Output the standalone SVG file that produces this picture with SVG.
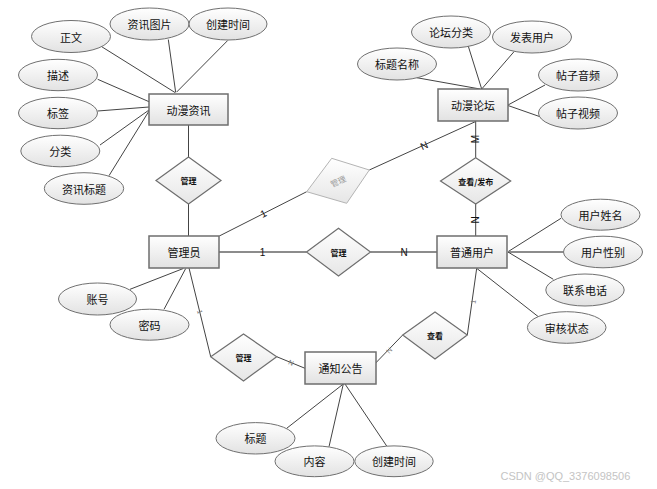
<svg xmlns="http://www.w3.org/2000/svg" width="657" height="489" viewBox="0 0 657 489">
<defs>
<linearGradient id="g" x1="0" y1="0" x2="0" y2="1">
<stop offset="0" stop-color="#ffffff"/>
<stop offset="1" stop-color="#e2e2e2"/>
</linearGradient>
<linearGradient id="gd" x1="0" y1="0" x2="0" y2="1">
<stop offset="0" stop-color="#ffffff"/>
<stop offset="1" stop-color="#e6e6e6"/>
</linearGradient>
</defs>
<style>
.ent{fill:url(#g);stroke:#6e6e6e;stroke-width:1.5}
.att{fill:url(#g);stroke:#707070;stroke-width:1}
.rel{fill:url(#gd);stroke:#6e6e6e;stroke-width:1.2}
.relg{fill:url(#gd);stroke:#b4b4b4;stroke-width:1}
.t{font-family:"Noto Sans CJK SC","Liberation Sans",sans-serif;font-size:11px;fill:#111;text-anchor:middle;dominant-baseline:central}
.rt{font-family:"Noto Sans CJK SC","Liberation Sans",sans-serif;font-size:8px;font-weight:bold;fill:#111;text-anchor:middle;dominant-baseline:central}
.rtg{font-family:"Noto Sans CJK SC","Liberation Sans",sans-serif;font-size:8px;fill:#999;text-anchor:middle;dominant-baseline:central}
.ln{stroke:#444;stroke-width:1;fill:none}
.lg{stroke:#8c8c8c;stroke-width:2;fill:none}
.lb{font-family:"Liberation Sans",sans-serif;font-size:10px;fill:#111;text-anchor:middle;dominant-baseline:central}
.lbs{font-family:"Liberation Sans",sans-serif;font-size:7px;fill:#777;text-anchor:middle;dominant-baseline:central}
.wm{font-family:"Liberation Sans",sans-serif;font-size:11px;fill:#c4c4c4}
</style>

<g id="connectors">
<line class="ln" x1="101.7" y1="46.7" x2="175" y2="92.5"/>
<line class="ln" x1="168.3" y1="39.5" x2="175.7" y2="92.5"/>
<line class="ln" x1="227.7" y1="40.5" x2="176.7" y2="92"/>
<line class="ln" x1="97.7" y1="79.3" x2="149" y2="101.7"/>
<line class="ln" x1="97.7" y1="111" x2="149" y2="107"/>
<line class="ln" x1="100" y1="145" x2="149" y2="110"/>
<line class="ln" x1="109" y1="175.7" x2="149" y2="111"/>
<line class="ln" x1="188.5" y1="125" x2="188.5" y2="157"/>
<line class="ln" x1="188.5" y1="204" x2="188.5" y2="236"/>
<line class="ln" x1="467.7" y1="44.3" x2="481.7" y2="89"/>
<line class="ln" x1="514" y1="51.7" x2="481.7" y2="89"/>
<line class="ln" x1="416.7" y1="77.7" x2="480" y2="89"/>
<line class="ln" x1="545" y1="85" x2="508" y2="105"/>
<line class="ln" x1="540" y1="116.7" x2="508" y2="105.5"/>
<line class="ln" x1="475.7" y1="121" x2="475.7" y2="157.7"/>
<line class="ln" x1="475.7" y1="204" x2="475.7" y2="236"/>
<line class="ln" x1="219.3" y1="236" x2="306.7" y2="191.7"/>
<line class="ln" x1="369.3" y1="170" x2="475.7" y2="121.5"/>
<line class="lg" x1="219" y1="252" x2="306.5" y2="252"/>
<line class="lg" x1="370.5" y1="252" x2="437" y2="252"/>
<line class="ln" x1="561" y1="218.3" x2="508" y2="251.7"/>
<line class="lg" x1="563.3" y1="252" x2="508" y2="252"/>
<line class="ln" x1="553.3" y1="279.3" x2="508" y2="252"/>
<line class="ln" x1="538.3" y1="316.7" x2="476.7" y2="268.3"/>
<line class="ln" x1="476.7" y1="268.3" x2="467.3" y2="335"/>
<line class="ln" x1="402.7" y1="335" x2="375.7" y2="363"/>
<line class="ln" x1="130" y1="289.3" x2="183.3" y2="268.5"/>
<line class="ln" x1="164" y1="309.3" x2="185.7" y2="268.5"/>
<line class="ln" x1="189" y1="268" x2="210.7" y2="356.7"/>
<line class="ln" x1="276.7" y1="356.7" x2="305" y2="368.3"/>
<line class="ln" x1="286.7" y1="428.3" x2="343.3" y2="384"/>
<line class="ln" x1="329" y1="446.7" x2="343.3" y2="384"/>
<line class="ln" x1="386.7" y1="446" x2="345" y2="384"/>

<text class="lb" transform="translate(263.3,213.5) rotate(-27)">1</text>
<text class="lb" transform="translate(424,145.7) rotate(-24)">N</text>
<text class="lb" x="262.5" y="252" fill="#5a1a0a">1</text>
<text class="lb" x="404" y="252">N</text>
<text class="lb" transform="translate(475.7,139) rotate(-90)">M</text>
<text class="lb" transform="translate(475.7,220) rotate(-90)">N</text>
<text class="lbs" transform="translate(200,311.7) rotate(76)">1</text>
<text class="lbs" transform="translate(291,362.7) rotate(22)">N</text>
<text class="lbs" transform="translate(473.3,301.7) rotate(-82)">1</text>
<text class="lbs" transform="translate(389.3,350.5) rotate(-46)">N</text>
</g>

<g id="e-dmzx"><rect class="ent" x="149" y="94" width="79" height="31"/><text class="t" x="188.5" y="109.5">动漫资讯</text></g>
<g id="e-gly"><rect class="ent" x="149" y="236" width="70" height="32"/><text class="t" x="184" y="252">管理员</text></g>
<g id="e-dmlt"><rect class="ent" x="438" y="89" width="70" height="32"/><text class="t" x="473" y="105">动漫论坛</text></g>
<g id="e-ptyh"><rect class="ent" x="437" y="236" width="70" height="32"/><text class="t" x="472" y="252">普通用户</text></g>
<g id="e-tzgg"><rect class="ent" x="305" y="352" width="71" height="32"/><text class="t" x="340.5" y="368">通知公告</text></g>

<g id="r-gl1"><polygon class="rel" points="156,180.5 188.5,157 221,180.5 188.5,204"/><text class="rt" x="188.5" y="180.5">管理</text></g>
<g id="r-gl2"><polygon class="relg" points="306.7,191.7 331.7,158.3 369.3,170 346.7,203.3"/><text class="rtg" transform="translate(338,181) rotate(-25)">管理</text></g>
<g id="r-gl3"><polygon class="rel" points="306.5,252 338.5,228.3 370.5,252 338.5,276"/><text class="rt" x="338.5" y="252">管理</text></g>
<g id="r-ckfb"><polygon class="rel" points="440.5,181 475.7,157.7 510.7,181 475.7,204"/><text class="rt" x="475.7" y="181">查看/发布</text></g>
<g id="r-ck"><polygon class="rel" points="402.7,335 435,312 467.3,335 435,359"/><text class="rt" x="435" y="335">查看</text></g>
<g id="r-gl4"><polygon class="rel" points="210.7,356.7 243.5,334 276.7,356.7 243.5,381"/><text class="rt" x="243.5" y="357">管理</text></g>

<g id="a-zw"><ellipse class="att" cx="71" cy="36.5" rx="39.5" ry="16"/><text class="t" x="71" y="36.5">正文</text></g>
<g id="a-zxtp"><ellipse class="att" cx="149.5" cy="24" rx="39.5" ry="16"/><text class="t" x="149.5" y="24">资讯图片</text></g>
<g id="a-cjsj1"><ellipse class="att" cx="228" cy="24" rx="39" ry="16"/><text class="t" x="228" y="24">创建时间</text></g>
<g id="a-ms"><ellipse class="att" cx="58" cy="75" rx="39.5" ry="15.7"/><text class="t" x="58" y="75">描述</text></g>
<g id="a-bq"><ellipse class="att" cx="58" cy="113" rx="39.5" ry="15.7"/><text class="t" x="58" y="113">标签</text></g>
<g id="a-fl"><ellipse class="att" cx="60.3" cy="151" rx="39.5" ry="15.8"/><text class="t" x="60.3" y="151">分类</text></g>
<g id="a-zxbt"><ellipse class="att" cx="84" cy="188.5" rx="39.7" ry="15.8"/><text class="t" x="84" y="188.5">资讯标题</text></g>

<g id="a-ltfl"><ellipse class="att" cx="451" cy="32" rx="39.5" ry="16"/><text class="t" x="451" y="32">论坛分类</text></g>
<g id="a-fbyh"><ellipse class="att" cx="532" cy="37" rx="39.5" ry="16"/><text class="t" x="532" y="37">发表用户</text></g>
<g id="a-btmc"><ellipse class="att" cx="397" cy="64" rx="39.5" ry="16"/><text class="t" x="397" y="64">标题名称</text></g>
<g id="a-tzyp"><ellipse class="att" cx="578" cy="75" rx="39.5" ry="16"/><text class="t" x="578" y="75">帖子音频</text></g>
<g id="a-tzsp"><ellipse class="att" cx="578" cy="113" rx="39.5" ry="16"/><text class="t" x="578" y="113">帖子视频</text></g>

<g id="a-yhxm"><ellipse class="att" cx="600.5" cy="214.7" rx="39.5" ry="15.5"/><text class="t" x="600.5" y="214.7">用户姓名</text></g>
<g id="a-yhxb"><ellipse class="att" cx="603" cy="252" rx="39.5" ry="15.8"/><text class="t" x="603" y="252">用户性别</text></g>
<g id="a-lxdh"><ellipse class="att" cx="585" cy="290" rx="39.2" ry="16"/><text class="t" x="585" y="290">联系电话</text></g>
<g id="a-shzt"><ellipse class="att" cx="566.7" cy="327.5" rx="39.3" ry="15.8"/><text class="t" x="566.7" y="327.5">审核状态</text></g>

<g id="a-zh"><ellipse class="att" cx="97.5" cy="299" rx="39" ry="16"/><text class="t" x="97.5" y="299">账号</text></g>
<g id="a-mm"><ellipse class="att" cx="149.5" cy="324.7" rx="39.5" ry="15.5"/><text class="t" x="149.5" y="324.7">密码</text></g>

<g id="a-bt"><ellipse class="att" cx="255.5" cy="438.3" rx="39.5" ry="15.7"/><text class="t" x="255.5" y="438.3">标题</text></g>
<g id="a-nr"><ellipse class="att" cx="314.5" cy="461.3" rx="39.5" ry="15.4"/><text class="t" x="314.5" y="461.3">内容</text></g>
<g id="a-cjsj2"><ellipse class="att" cx="394" cy="461.3" rx="39.2" ry="15.4"/><text class="t" x="394" y="461.3">创建时间</text></g>

<text class="wm" x="500.5" y="479.5">CSDN @QQ_3376098506</text>
</svg>
